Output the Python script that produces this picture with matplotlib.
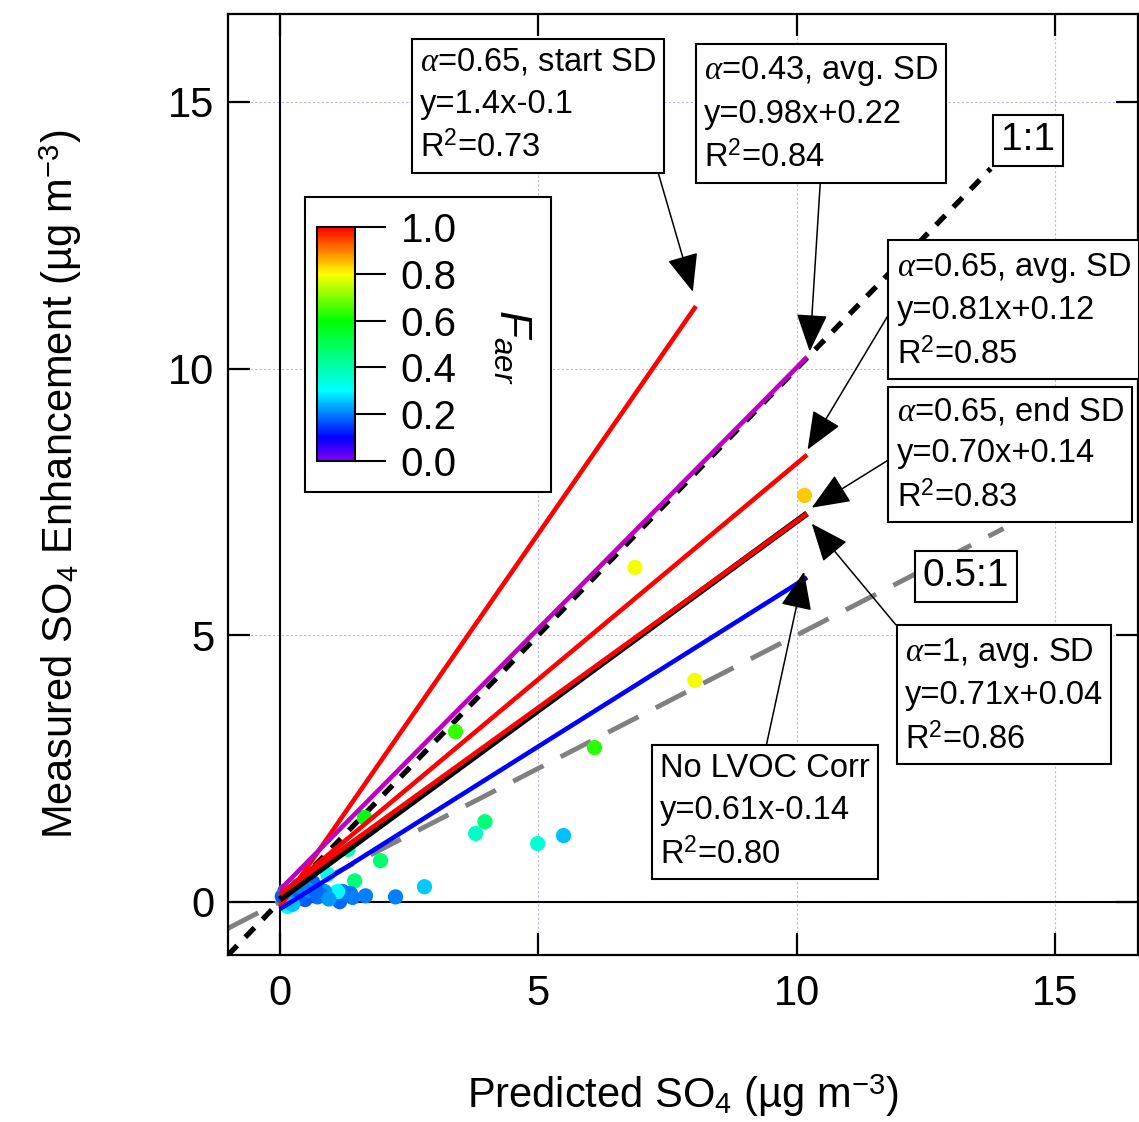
import numpy as np
import matplotlib
matplotlib.use('Agg')
import matplotlib.pyplot as plt
from matplotlib.colors import LinearSegmentedColormap
from matplotlib.patches import Rectangle
import matplotlib.cm as cm

plt.rcParams['font.family'] = 'Liberation Sans'
plt.rcParams['mathtext.fontset'] = 'custom'
plt.rcParams['mathtext.rm'] = 'Liberation Sans'
plt.rcParams['mathtext.it'] = 'Liberation Serif:italic'
plt.rcParams['mathtext.sf'] = 'Liberation Sans:italic'

# measured points: predicted SO4, measured enhancement, F_aer
pred = [10.15, 6.87, 8.03, 3.40, 6.09, 3.97, 3.79, 4.99, 5.49, 1.95, 1.45, 2.80,
        2.24, 1.66, 1.64, 1.32, 0.93, 1.16, 1.22, 1.37, 1.41, 1.12, 0.87, 0.73,
        0.60, 0.49, 0.15, 0.64, 0.05, 0.10, 0.20, 0.30, 0.40, 0.55, 0.35, 0.25,
        0.80, 0.95, 0.45, 0.70]
meas = [7.62, 6.27, 4.15, 3.19, 2.89, 1.50, 1.28, 1.09, 1.24, 0.77, 0.39, 0.28,
        0.09, 0.11, 1.58, 0.98, 0.51, 0.00, 0.19, 0.15, 0.08, 0.19, 0.19, 0.09,
        0.36, 0.04, -0.09, 0.36, 0.10, 0.20, 0.05, 0.15, 0.10, 0.22, 0.30, -0.05,
        0.12, 0.05, 0.28, 0.20]
faer = [0.84, 0.79, 0.79, 0.64, 0.63, 0.46, 0.37, 0.35, 0.25, 0.47, 0.46, 0.26,
        0.20, 0.20, 0.58, 0.40, 0.32, 0.18, 0.20, 0.19, 0.20, 0.30, 0.22, 0.19,
        0.20, 0.17, 0.30, 0.18, 0.17, 0.20, 0.19, 0.21, 0.18, 0.22, 0.20, 0.25,
        0.19, 0.22, 0.20, 0.18]

# fit lines: slope, intercept, end of x range
fit_names = ['start', 'avg043', 'avg065', 'end065', 'avg1', 'nolvoc']
fit_slope = [1.4, 0.98, 0.81, 0.70, 0.71, 0.61]
fit_icpt = [-0.1, 0.22, 0.12, 0.14, 0.04, -0.14]
fit_xmax = [8.05, 10.2, 10.2, 10.2, 10.2, 10.2]
fit_color = ['#ff0000', '#c000c0', '#ff0000', '#ff0000', '#000000', '#0000ff']
fit_lw = [3.3, 3.3, 3.3, 3.3, 4.5, 3.3]
fit_z = [5, 5, 5, 6, 5, 5]

labels = ['$\\alpha$=0.65, start SD\ny=1.4x-0.1\nR$^2$=0.73',
          '$\\alpha$=0.43, avg. SD\ny=0.98x+0.22\nR$^2$=0.84',
          '$\\alpha$=0.65, avg. SD\ny=0.81x+0.12\nR$^2$=0.85',
          '$\\alpha$=0.65, end SD\ny=0.70x+0.14\nR$^2$=0.83',
          '$\\alpha$=1, avg. SD\ny=0.71x+0.04\nR$^2$=0.86',
          'No LVOC Corr\ny=0.61x-0.14\nR$^2$=0.80']
label_xy = [(2.71, 14.93), (8.20, 14.77), (11.93, 11.08), (11.93, 8.38),
            (12.09, 3.86), (7.35, 1.68)]
arrow_to = [(7.99, 11.44), (10.25, 10.32), (10.21, 8.48), (10.29, 7.39),
            (10.29, 7.09), (10.14, 6.19)]
arrow_rel = [(1, 0), (0.5, 0), (0, 0.58), (0, 0.5), (0, 1.0), (0.5, 1)]

cmap = LinearSegmentedColormap.from_list(
    'igor_rainbow',
    [(0.0, '#8000ff'), (0.1, '#0000ff'), (0.3, '#00ffff'), (0.45, '#00ff80'),
     (0.6, '#00ff00'), (0.8, '#ffff00'), (1.0, '#ff0000')])

fig = plt.figure(figsize=(11.39, 11.22), dpi=100)
ax = fig.add_axes([228 / 1139, 167 / 1122, 910 / 1139, 941 / 1122])

ax.set_xlim(-1.0, 16.6)
ax.set_ylim(-1.0, 16.65)
ax.set_xticks([0, 5, 10, 15])
ax.set_yticks([0, 5, 10, 15])
ax.grid(True, ls=(0, (2, 2)), color='#b4b4ff', lw=0.8)
ax.set_axisbelow(True)
ax.axhline(0, color='k', lw=1.5, zorder=1)
ax.axvline(0, color='k', lw=1.5, zorder=1)
for s in ax.spines.values():
    s.set_linewidth(1.6)
ax.tick_params(direction='in', length=16, width=1.6, labelsize=30,
               top=True, right=True)
ax.tick_params(axis='x', pad=14)
ax.tick_params(axis='y', pad=10)

ax.set_xlabel('Predicted SO$_4$ (µg m$^{-3}$)', fontsize=30, labelpad=42)
ax.set_ylabel('Measured SO$_4$ Enhancement (µg m$^{-3}$)', fontsize=30, labelpad=60)

# reference lines
xr = np.array([-1.0, 14.0])
ax.plot(xr, 0.5 * xr, color='#808080', lw=3.5, ls=(0, (7, 4)), zorder=2)
xr = np.array([-1.0, 13.75])
ax.plot(xr, xr, color='k', lw=3.8, ls=(0, (2.5, 2.2)), zorder=3)

ax.scatter(pred, meas, c=faer, cmap=cmap, vmin=0, vmax=1, s=120,
           edgecolors='none', zorder=4)

for i in range(len(fit_slope)):
    xx = np.array([0.0, fit_xmax[i]])
    ax.plot(xx, fit_slope[i] * xx + fit_icpt[i], color=fit_color[i],
            lw=fit_lw[i], zorder=fit_z[i], solid_capstyle='butt')

for i in range(len(labels)):
    ax.annotate(labels[i], xy=arrow_to[i], xytext=label_xy[i],
                ha='left', va='center', fontsize=23.5, linespacing=1.45,
                bbox=dict(boxstyle='square,pad=0.25', fc='white', ec='k', lw=1.5),
                arrowprops=dict(arrowstyle='-|>,head_length=0.8,head_width=0.33',
                                mutation_scale=30, color='k', lw=1.1,
                                shrinkA=0, shrinkB=0, relpos=arrow_rel[i]),
                zorder=8)

ax.text(14.47, 14.28, '1:1', fontsize=28, ha='center', va='center', zorder=8,
        bbox=dict(boxstyle='square,pad=0.2', fc='white', ec='k', lw=1.5))
ax.text(13.27, 6.10, '0.5:1', fontsize=28, ha='center', va='center', zorder=8,
        bbox=dict(boxstyle='square,pad=0.2', fc='white', ec='k', lw=1.5))

# colour scale box
ax.add_patch(Rectangle((77 / 910, 463 / 941), 246 / 910, 295 / 941,
                       transform=ax.transAxes, fc='white', ec='k', lw=1.5,
                       zorder=9))
cax = fig.add_axes([317 / 1139, 661 / 1122, 38 / 1139, 234 / 1122])
cax.set_zorder(2)
sm = cm.ScalarMappable(cmap=cmap, norm=plt.Normalize(0, 1))
cb = fig.colorbar(sm, cax=cax, ticks=[0, 0.2, 0.4, 0.6, 0.8, 1.0])
cb.ax.set_yticklabels(['0.0', '0.2', '0.4', '0.6', '0.8', '1.0'])
cb.outline.set_linewidth(1.5)
cb.ax.tick_params(length=22, width=1.5, labelsize=29, pad=11)
cb.ax.text(5.13, 0.49, '$\\mathsf{F}_{\\mathsf{aer}}$', rotation=-90,
           transform=cb.ax.transAxes, ha='center', va='center', fontsize=32)

fig.savefig('out.png', dpi=100)
